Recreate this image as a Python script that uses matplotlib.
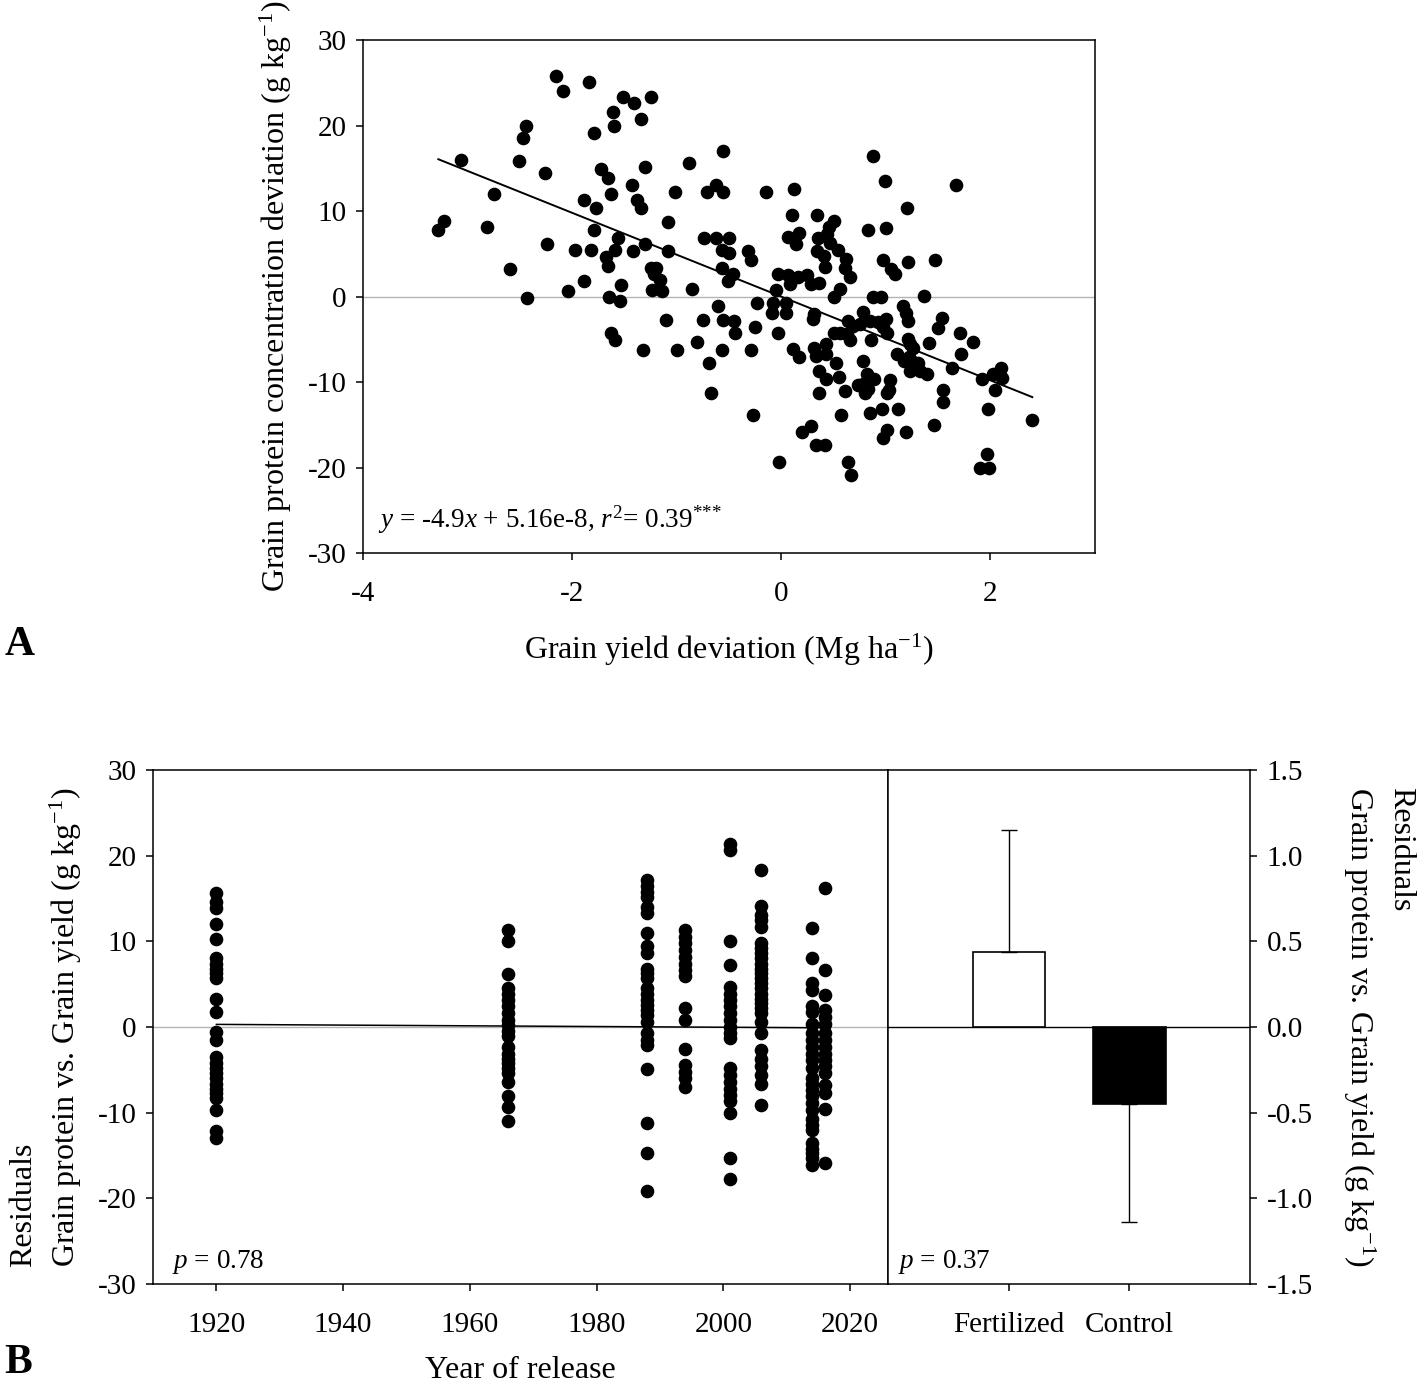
import numpy as np
import matplotlib
matplotlib.use('Agg')
import matplotlib.pyplot as plt

plt.rcParams['font.family'] = ['Liberation Serif', 'DejaVu Serif']
plt.rcParams['mathtext.fontset'] = 'custom'
plt.rcParams['mathtext.rm'] = 'Liberation Serif'
plt.rcParams['mathtext.it'] = 'Liberation Serif:italic'
plt.rcParams['mathtext.bf'] = 'Liberation Serif:bold'
plt.rcParams['axes.linewidth'] = 1.1
plt.rcParams['axes.unicode_minus'] = False

# Panel A: grain yield deviation (Mg/ha) vs protein deviation (g/kg)
x_dev = [-2.15, -2.09, -1.84, -1.51, -1.41, -1.25, -1.61, -1.60, -1.34, -1.79,
         -2.44, -2.47, -3.06, -2.51, -2.26, -0.56, -0.88, -1.30, -1.72, -1.66,
         -1.43, -2.75, -1.89, -1.77, -1.63, -1.38, -1.34, -1.02, -0.71, -0.62,
         -0.56, -0.15, -3.23, -3.28, -2.81, -1.08, -1.79, -1.56, -2.24, -1.97,
         -1.82, -1.59, -1.42, -1.30, -1.08, -0.74, -0.62, -0.50, -0.57, -0.50,
         -0.32, -0.29, -1.68, -1.66, -2.59, -1.25, -1.20, -1.22, -1.16, -0.57,
         -0.46, -0.51, -0.03, -1.89, -1.53, -2.04, -1.24, -1.14, -0.85, -0.05,
         -2.43, -1.65, -1.54, -0.61, -0.23, -0.08, -0.09, -1.10, -0.75, -0.56,
         -0.45, -0.25, -0.44, -0.03, -1.63, -1.59, -1.32, -1.00, -0.81, -0.57,
         -0.29, -0.69, -0.67, -0.27, -0.02,
         0.88, 0.99, 1.67, 0.12, 1.20, 0.10, 0.34, 0.50, 0.46, 0.83,
         1.00, 0.06, 0.17, 0.14, 0.35, 0.44, 0.47, 0.34, 0.41, 0.54,
         0.62, 0.97, 1.21, 1.47, 1.05, 1.09, 0.42, 0.61, 0.66,
         0.06, 0.16, 0.25, 0.28,
         0.08, 0.36, 0.56, 0.50, 0.88, 0.95, 1.36,
         0.04, 0.04, 1.16, 1.19, 1.21, 0.31, 0.30, 0.78, 0.64, 0.69,
         0.75, 0.85, 0.92, 1.00, 0.97, 1.01, 1.54, 1.50, 0.50, 0.56,
         0.66, 0.63, 0.86, 1.21, 1.23, 1.26, 1.41, 1.71, 1.83,
         0.11, 0.17, 0.31, 0.43, 0.33, 0.43, 1.11, 1.17, 1.22, 1.26,
         1.23, 1.31, 1.33, 1.39, 1.72, 0.78, 1.63, 0.52, 0.55, 0.43,
         0.36, 0.82, 0.89, 0.78, 0.83, 0.80, 0.73, 0.61, 1.04, 1.01,
         1.03, 0.36, 1.92, 2.02, 2.10, 2.11, 2.04, 1.55, 1.55, 2.40,
         0.85, 0.96, 1.12, 0.57, 1.98, 0.20, 0.28, 1.01, 0.97, 1.19,
         1.46, 0.33, 0.42,
         0.64, 0.67, 1.97, 1.90, 1.99]
y_dev = [25.8, 24.1, 25.1, 23.4, 22.6, 23.4, 21.6, 20.0, 20.8, 19.2,
         20.0, 18.5, 16.0, 15.9, 14.5, 17.0, 15.6, 15.2, 14.9, 13.9,
         13.1, 12.0, 11.3, 10.4, 12.0, 11.3, 10.4, 12.2, 12.2, 13.0,
         12.2, 12.2, 8.9, 7.8, 8.1, 8.7, 7.8, 6.9, 6.2, 5.5,
         5.5, 5.5, 5.3, 6.1, 5.3, 6.9, 6.9, 6.9, 5.5, 5.1,
         5.3, 4.3, 4.6, 3.6, 3.2, 3.4, 3.4, 2.7, 2.0, 3.4,
         2.7, 1.8, 2.6, 1.8, 1.3, 0.7, 0.8, 0.6, 0.9, 0.8,
         -0.2, 0.0, -0.5, -1.1, -0.8, -0.8, -1.9, -2.7, -2.7, -2.7,
         -2.8, -3.6, -4.3, -4.3, -4.3, -5.1, -6.2, -6.2, -5.3, -6.2,
         -6.2, -7.8, -11.3, -13.9, -19.3,
         16.5, 13.5, 13.0, 12.6, 10.4, 9.5, 9.6, 8.8, 8.1, 7.8,
         8.0, 7.0, 7.4, 6.1, 6.9, 7.3, 6.3, 5.3, 4.7, 5.4,
         4.4, 4.3, 4.0, 4.3, 3.2, 2.7, 3.5, 3.4, 2.3,
         2.5, 2.3, 2.5, 1.5,
         1.5, 1.6, 0.9, -0.1, -0.1, -0.1, 0.1,
         -0.8, -1.9, -1.1, -1.9, -2.8, -2.0, -2.6, -1.8, -2.8, -3.4,
         -3.2, -2.8, -3.0, -2.6, -3.6, -4.2, -2.5, -3.7, -4.3, -4.3,
         -5.1, -4.4, -5.1, -5.0, -5.5, -6.0, -5.4, -4.2, -5.3,
         -6.1, -7.1, -6.0, -5.6, -7.0, -6.7, -6.7, -7.5, -7.1, -7.7,
         -8.7, -7.8, -8.7, -9.1, -6.7, -7.5, -8.3, -7.8, -9.4, -9.6,
         -8.7, -9.0, -9.6, -10.2, -10.8, -11.3, -10.4, -11.0, -9.8, -11.3,
         -10.9, -11.3, -9.6, -9.0, -8.4, -9.5, -10.9, -10.9, -12.3, -14.4,
         -13.6, -13.2, -13.1, -13.9, -13.2, -15.8, -15.1, -15.6, -16.6, -15.8,
         -15.0, -17.4, -17.4,
         -19.3, -20.9, -18.4, -20.1, -20.1]
fit_slope = -4.9
fit_intercept = 5.16e-8

# Panel B: residuals by year of release
years = [1920, 1966, 1988, 1994, 2001, 2006, 2014, 2016]
res_1920 = [15.6, 14.6, 13.9, 12.0, 10.3, 8.0, 7.4, 6.8, 6.3, 5.7, 3.3, 1.7,
            -0.6, -1.5, -3.5, -4.2, -4.8, -5.4, -6.0, -6.6, -7.2, -7.7, -8.3,
            -9.7, -12.2, -13.0]
res_1966 = [11.3, 10.0, 6.2, 4.5, 3.9, 3.2, 2.4, 1.6, 0.8, 0.2, -0.5, -1.1,
            -2.3, -3.1, -3.7, -4.2, -4.8, -5.4, -6.4, -8.1, -9.3, -11.0]
res_1988 = [17.2, 16.4, 15.8, 15.2, 14.0, 13.3, 11.0, 9.5, 8.6, 6.8, 6.3, 5.7,
            4.5, 3.9, 3.2, 2.6, 2.0, 1.4, 0.6, -0.7, -1.5, -2.1, -4.9, -11.2,
            -14.7, -19.2]
res_1994 = [11.3, 10.5, 9.8, 9.0, 8.2, 7.4, 6.7, 5.9, 2.2, 0.8, -2.6, -4.4,
            -5.2, -6.0, -7.0]
res_2001 = [21.4, 20.7, 10.0, 7.2, 4.7, 3.9, 3.2, 2.4, 1.6, 0.8, 0.0, -0.7,
            -1.3, -4.8, -5.6, -6.4, -7.2, -7.9, -8.7, -10.1, -15.3, -17.7]
res_2006 = [18.3, 14.1, 13.1, 12.5, 11.7, 9.8, 9.2, 8.6, 8.0, 7.4, 6.8, 6.3,
            5.7, 5.1, 4.5, 3.9, 3.3, 2.8, 2.2, 1.6, 0.6, -0.7, -2.7, -3.7,
            -4.6, -5.6, -6.6, -9.1]
res_2014 = [11.5, 8.0, 5.1, 4.3, 2.4, 1.8, 0.4, -0.7, -1.5, -2.3, -3.1, -3.9,
            -4.8, -6.0, -6.6, -7.4, -8.1, -8.9, -9.7, -10.7, -11.4, -12.0,
            -13.6, -14.2, -14.7, -15.3, -16.1]
res_2016 = [16.2, 6.7, 3.7, 2.0, 1.2, 0.4, -0.7, -1.5, -2.3, -3.1, -3.9, -4.6,
            -5.4, -6.8, -7.7, -9.6, -15.9]
residuals = [res_1920, res_1966, res_1988, res_1994, res_2001, res_2006,
             res_2014, res_2016]
trend_years = [1920, 2016]
trend_vals = [0.3, -0.1]

treatments = ['Fertilized', 'Control']
trt_means = [0.44, -0.45]
trt_err_up = [0.71, 0.0]
trt_err_down = [0.0, 0.69]

TICK_FS = 21
LABEL_FS = 23
NOTE_FS = 19.5

fig = plt.figure(figsize=(14.17, 13.86), dpi=100)

# ---- panel A ----
ax1 = fig.add_axes([0.2562, 0.601, 0.5166, 0.370])
ax1.axhline(0, color='#b4b4b4', lw=1.0, zorder=1)
ax1.plot(x_dev, y_dev, 'o', color='black', ms=8.8, zorder=3)
xs = np.array([min(x_dev), max(x_dev)])
ax1.plot(xs, fit_slope * xs + fit_intercept, color='black', lw=1.4, zorder=4)
ax1.set_xlim(-4, 3)
ax1.set_ylim(-30, 30)
ax1.set_xticks([-4, -2, 0, 2])
ax1.set_yticks(range(-30, 31, 10))
ax1.tick_params(direction='out', length=5, width=1.1, labelsize=TICK_FS)
ax1.tick_params(axis='x', pad=15)
ax1.tick_params(axis='y', pad=7)
ax1.set_xlabel('Grain yield deviation (Mg ha$^{-1}$)', fontsize=LABEL_FS, labelpad=18)
ax1.set_ylabel('Grain protein concentration deviation (g kg$^{-1}$)',
               fontsize=LABEL_FS, labelpad=10)
ax1.text(0.02, 0.05, '$y$ = -4.9$x$ + 5.16e-8, $r^2$= 0.39$^{{*}{*}{*}}$',
         transform=ax1.transAxes, fontsize=NOTE_FS, va='baseline', ha='left')
fig.text(0.003, 1 - 645 / 1386, 'A', fontsize=30, fontweight='bold', va='center')

# ---- panel B left ----
ax2 = fig.add_axes([0.108, 0.0736, 0.5187, 0.3709])
ax2.axhline(0, color='#b4b4b4', lw=1.0, zorder=1)
for yr, vals in zip(years, residuals):
    ax2.plot([yr] * len(vals), vals, 'o', color='black', ms=8.8, zorder=3)
ax2.plot(trend_years, trend_vals, color='black', lw=1.1, zorder=2)
ax2.set_xlim(1910, 2026)
ax2.set_ylim(-30, 30)
ax2.set_xticks(range(1920, 2021, 20))
ax2.set_yticks(range(-30, 31, 10))
ax2.tick_params(direction='out', length=5, width=1.1, labelsize=TICK_FS)
ax2.tick_params(axis='x', pad=15)
ax2.tick_params(axis='y', pad=7)
ax2.set_xlabel('Year of release', fontsize=LABEL_FS, labelpad=13)
ax2.set_ylabel('Residuals\nGrain protein vs. Grain yield (g kg$^{-1}$)',
               fontsize=LABEL_FS, labelpad=10, multialignment='left', linespacing=1.35)
ax2.text(0.026, 0.031, '$p$ = 0.78', transform=ax2.transAxes, fontsize=NOTE_FS,
         va='baseline', ha='left')
fig.text(0.003, 0.003, 'B', fontsize=30, fontweight='bold', va='bottom')

# ---- panel B right ----
ax3 = fig.add_axes([0.6267, 0.0736, 0.2555, 0.3709])
ax3.axhline(0, color='black', lw=1.0, zorder=1)
ax3.bar([1, 2], trt_means, width=0.6, color=['white', 'black'],
        edgecolor='black', linewidth=1.2, zorder=2)
ax3.errorbar([1, 2], trt_means, yerr=[trt_err_down, trt_err_up], fmt='none',
             ecolor='black', elinewidth=1.0, capsize=6, capthick=1.0, zorder=3)
ax3.set_xlim(0, 3)
ax3.set_ylim(-1.5, 1.5)
ax3.set_xticks([1, 2])
ax3.set_xticklabels(treatments)
ax3.set_yticks(np.arange(-1.5, 1.51, 0.5))
ax3.set_yticklabels(['%.1f' % v for v in np.arange(-1.5, 1.51, 0.5)])
ax3.yaxis.tick_right()
ax3.yaxis.set_label_position('right')
ax3.tick_params(direction='out', length=5, width=1.1, labelsize=TICK_FS)
ax3.tick_params(axis='x', pad=15)
ax3.tick_params(axis='y', pad=7)
ax3.set_ylabel('Residuals\nGrain protein vs. Grain yield (g kg$^{-1}$)',
               fontsize=LABEL_FS, rotation=270, va='bottom', labelpad=20,
               multialignment='left', linespacing=1.35)
ax3.text(0.028, 0.031, '$p$ = 0.37', transform=ax3.transAxes, fontsize=NOTE_FS,
         va='baseline', ha='left')

fig.savefig('out.png', dpi=100)
